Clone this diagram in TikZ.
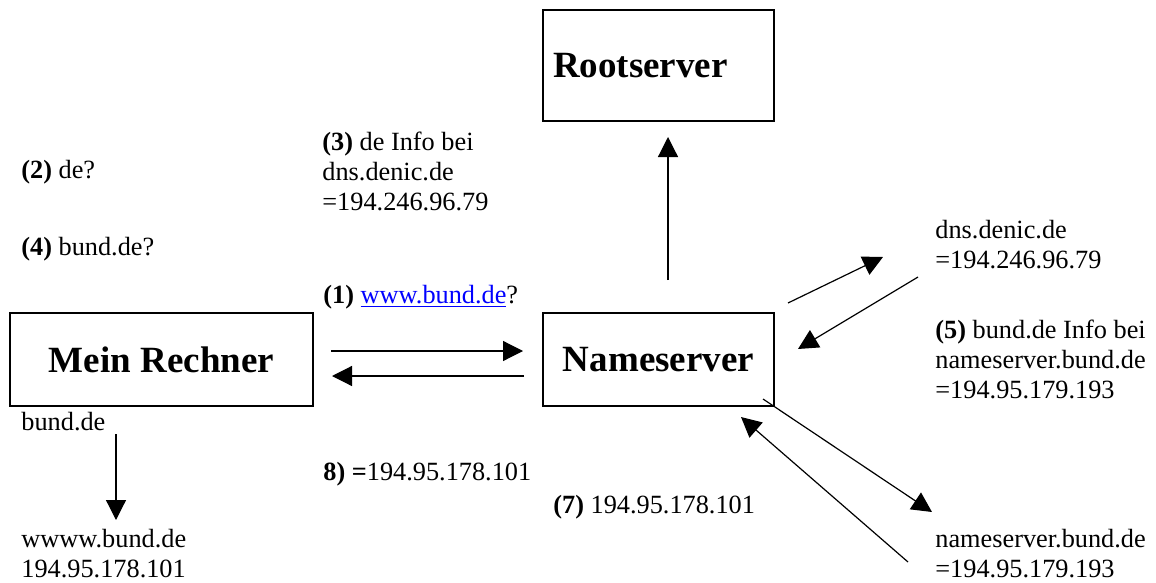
\documentclass[tikz,border=0pt]{standalone}
\usepackage{fontspec}
\setmainfont{Liberation Serif}
\usetikzlibrary{arrows.meta}
\newcommand\bodyfnt{\fontsize{13.15}{15}\selectfont}
\newcommand\boxfnt{\fontsize{18.5}{21}\selectfont\bfseries}
\definecolor{linkblue}{RGB}{0,0,255}
\begin{document}
\begin{tikzpicture}[x=0.5pt,y=-0.5pt,
  srvbox/.style={draw, line width=1pt, font=\boxfnt, inner sep=0pt,
    minimum height=46.5pt},
  lbl/.style={anchor=base west, inner sep=0pt, font=\bodyfnt, align=left},
  arr/.style={-{Triangle[length=10pt,width=10pt]}, line width=0.6pt}]
\useasboundingbox (0,0) rectangle (1156,583);
% boxes
\node[srvbox, minimum height=55.5pt, inner xsep=5pt, text width=105.5pt, align=left]
  (root) at (658.5,65.5) {Rootserver};
\node[srvbox, minimum width=151.5pt] (mein) at (161.5,359.5) {Mein Rechner};
\node[srvbox, minimum width=115.5pt] (ns) at (658.5,359.5) {Nameserver};
% arrow end points
\coordinate (r1) at (668,280); \coordinate (r2) at (668,137);
\coordinate (h1) at (331,351); \coordinate (h2) at (523,351);
\coordinate (h3) at (524,376); \coordinate (h4) at (332,376);
\coordinate (d1) at (788,303); \coordinate (d2) at (883,257);
\coordinate (d3) at (918,277); \coordinate (d4) at (798,349);
\coordinate (n1) at (763,399); \coordinate (n2) at (932,512);
\coordinate (n3) at (908,562); \coordinate (n4) at (741,417);
\coordinate (b1) at (116,434); \coordinate (b2) at (116,520);
\draw[arr] (r1) -- (r2);
\draw[arr] (h1) -- (h2);
\draw[arr] (h3) -- (h4);
\draw[arr] (d1) -- (d2);
\draw[arr] (d3) -- (d4);
\draw[arr] (n1) -- (n2);
\draw[arr] (n3) -- (n4);
\draw[arr] (b1) -- (b2);
% labels (multi-line nodes are placed by the baseline of their last line)
\node[lbl] (t2) at (21,178) {\textbf{(2)} de?};
\node[lbl] (t4) at (21,255) {\textbf{(4)} bund.de?};
\node[lbl] (t3) at (322,210) {\textbf{(3)} de Info bei\\dns.denic.de\\=194.246.96.79};
\node[lbl] (t1) at (323,303) {\textbf{(1)} \textcolor{linkblue}{\underline{www.bund.de}}?};
\node[lbl] (tb) at (21,430) {bund.de};
\node[lbl] (tw) at (21,577) {wwww.bund.de\\194.95.178.101};
\node[lbl] (t8) at (323,480) {\textbf{8) =}194.95.178.101};
\node[lbl] (t7) at (553,513) {\textbf{(7)} 194.95.178.101};
\node[lbl] (tdn) at (935,268) {dns.denic.de\\=194.246.96.79};
\node[lbl] (t5) at (935,398) {\textbf{(5)} bund.de Info bei\\nameserver.bund.de\\=194.95.179.193};
\node[lbl] (tnb) at (935,577) {nameserver.bund.de\\=194.95.179.193};
\end{tikzpicture}
\end{document}
